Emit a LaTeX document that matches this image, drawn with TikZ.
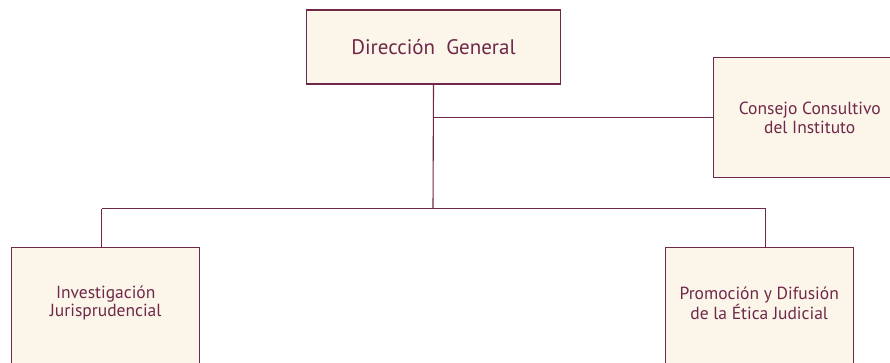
\documentclass[tikz,border=0pt]{standalone}
\usepackage{fontspec}
\setmainfont{PT Sans}
\usetikzlibrary{positioning}
\definecolor{vino}{RGB}{112,40,74}
\definecolor{crema}{RGB}{251,246,233}
\tikzset{
  unidad/.style={draw=vino, line width=1.4pt, fill=crema, inner sep=0pt},
  rotulo/.style={text=vino, align=center, inner sep=0pt, font=\fontsize{17.5}{18.8}\selectfont},
  enlace/.style={draw=vino, line width=1.1pt},
}
\begin{document}
\begin{tikzpicture}[x=1pt,y=-1pt,line join=miter]
  \useasboundingbox (0,0) rectangle (890,362);
  \clip (0,0) rectangle (890,362);
  % direccion y consejo
  \node[unidad, rotulo, minimum width=254pt, minimum height=74pt, font=\fontsize{21}{24}\selectfont] (dir) at (433.5,47) {Dirección\ \ General};
  \node[unidad, rotulo, minimum width=192pt, minimum height=120pt, anchor=north west] (consejo) at (713,57) {Consejo Consultivo\\del Instituto};
  % areas de abajo, cortadas por el borde
  \node[unidad, minimum width=188pt, minimum height=140pt, anchor=north west] (invest) at (11,246.5) {};
  \node[unidad, minimum width=188pt, minimum height=140pt, anchor=north west] (promo) at (664.5,246.5) {};
  \node[rotulo] (investtxt) at ([yshift=-56.5pt]invest.north) {Investigación\\Jurisprudencial};
  \node[rotulo] (promotxt) at ([yshift=-56.5pt]promo.north) {Promoción y Difusión\\de la Ética Judicial};
  % lineas
  \coordinate (bus) at (433,208.5);
  \coordinate (ramaI) at (101.5,208.5);
  \coordinate (ramaP) at (765.5,208.5);
  \draw[enlace] (dir.south) -- (bus);
  \draw[enlace] (dir.south |- consejo.west) -- (consejo.west);
  \draw[enlace] (ramaI) -- (ramaP);
  \draw[enlace] (ramaI) -- (ramaI |- invest.north);
  \draw[enlace] (ramaP) -- (ramaP |- promo.north);
\end{tikzpicture}
\end{document}
